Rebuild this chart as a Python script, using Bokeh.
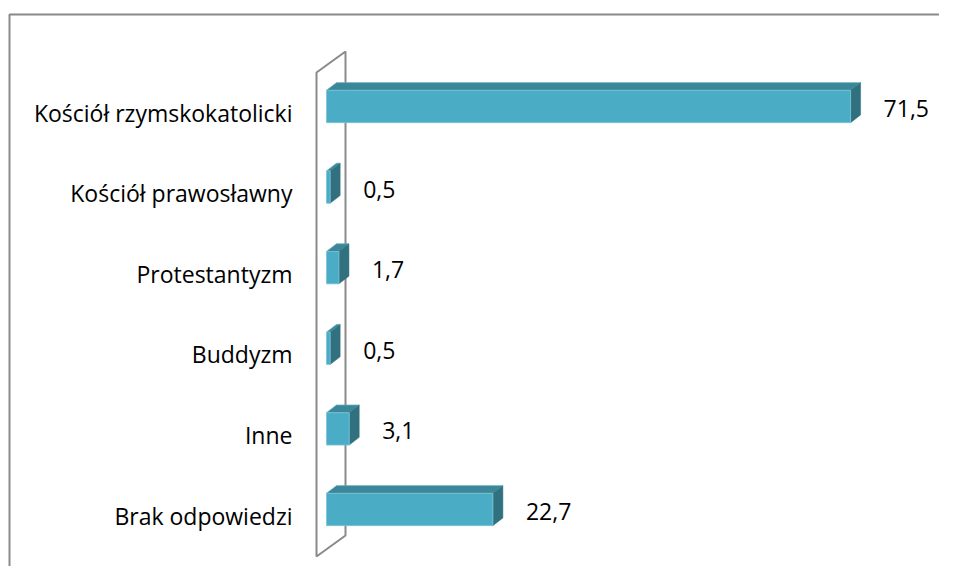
from bokeh.plotting import figure
from bokeh.models import Range1d, ColumnDataSource
from bokeh.core.properties import value
from bokeh.embed import file_html
from bokeh.resources import INLINE

# ---- data ----
categories = ["Kościół rzymskokatolicki", "Kościół prawosławny", "Protestantyzm",
              "Buddyzm", "Inne", "Brak odpowiedzi"]
values = [71.5, 0.5, 1.7, 0.5, 3.1, 22.7]
value_labels = ["71,5", "0,5", "1,7", "0,5", "3,1", "22,7"]

# ---- layout (pixels) ----
W, H = 939, 566
PX = 7.33          # px per value unit
PY = 80.6          # px per category step
ZERO_PX = 326      # x pixel of value 0 inside the figure
TOP_PX = 106       # y pixel (from top) of first category centre
X0 = -ZERO_PX / PX
X1 = X0 + W / PX
Y1 = (len(categories) - 1) + TOP_PX / PY
Y0 = Y1 - H / PY

BAR_H = 32.3 / PY
DX = 10.0 / PX
DY = 7.7 / PY

FRONT = "#4BACC6"
TOP = "#3B8698"
SIDE = "#31717F"
GRAY = "#8A8A8A"
FONT = "Open Sans"
FS = "23px"

p = figure(width=W, height=H, x_range=Range1d(X0, X1), y_range=Range1d(Y0, Y1),
           output_backend="svg", toolbar_location=None, min_border=0,
           x_axis_location=None, y_axis_location=None)
p.grid.visible = False
p.outline_line_color = None
p.background_fill_color = "white"
p.border_fill_color = "white"

# outer chart border (left and top visible)
bx = X0 + 9.0 / PX
by = Y1 - 14.0 / PY
p.line([bx, bx, X1 + 5], [Y0 - 1, by, by], line_color=GRAY, line_width=2)

n = len(categories)
ys = [n - 1 - i for i in range(n)]

# 3D wall (outline)
wx_f = -10.0 / PX
wx_b = 19.0 / PX
w_top_f = ys[0] + 34.0 / PY
w_bot_f = ys[-1] - 47.0 / PY
w_top_b = ys[0] + 55.0 / PY
w_bot_b = ys[-1] - 26.0 / PY
p.patch([wx_f, wx_b, wx_b, wx_f], [w_top_f, w_top_b, w_bot_b, w_bot_f],
        fill_color=None, line_color=GRAY, line_width=2)

# bars
bottoms = [y - BAR_H / 2 for y in ys]
tops = [y + BAR_H / 2 for y in ys]
src = ColumnDataSource(dict(left=[0] * n, right=values, bottom=bottoms, top=tops))
top_xs = [[0, v, v + DX, DX] for v in values]
top_ys = [[t, t, t + DY, t + DY] for t in tops]
side_xs = [[v, v, v + DX, v + DX] for v in values]
side_ys = [[b, t, t + DY, b + DY] for b, t in zip(bottoms, tops)]

p.patches(top_xs, top_ys, fill_color=TOP, line_color="#5FA9BB", line_width=0.8)
p.patches(side_xs, side_ys, fill_color=SIDE, line_color=SIDE, line_width=0.5)
p.quad(left="left", right="right", bottom="bottom", top="top", source=src,
       fill_color=FRONT, line_color="#7CC3D6", line_width=0.8)

# category labels
p.text(x=[-34.0 / PX] * n, y=[y - 6.0 / PY for y in ys], text=categories,
       text_align="right", text_baseline="middle", text_font=value(FONT),
       text_font_size=FS, text_color="#000000")

# value labels
p.text(x=[v + 33.0 / PX for v in values], y=[y - 2.0 / PY for y in ys], text=value_labels,
       text_align="left", text_baseline="middle", text_font=value(FONT),
       text_font_size=FS, text_color="#000000")

open("out.html", "w").write(file_html(p, INLINE))
